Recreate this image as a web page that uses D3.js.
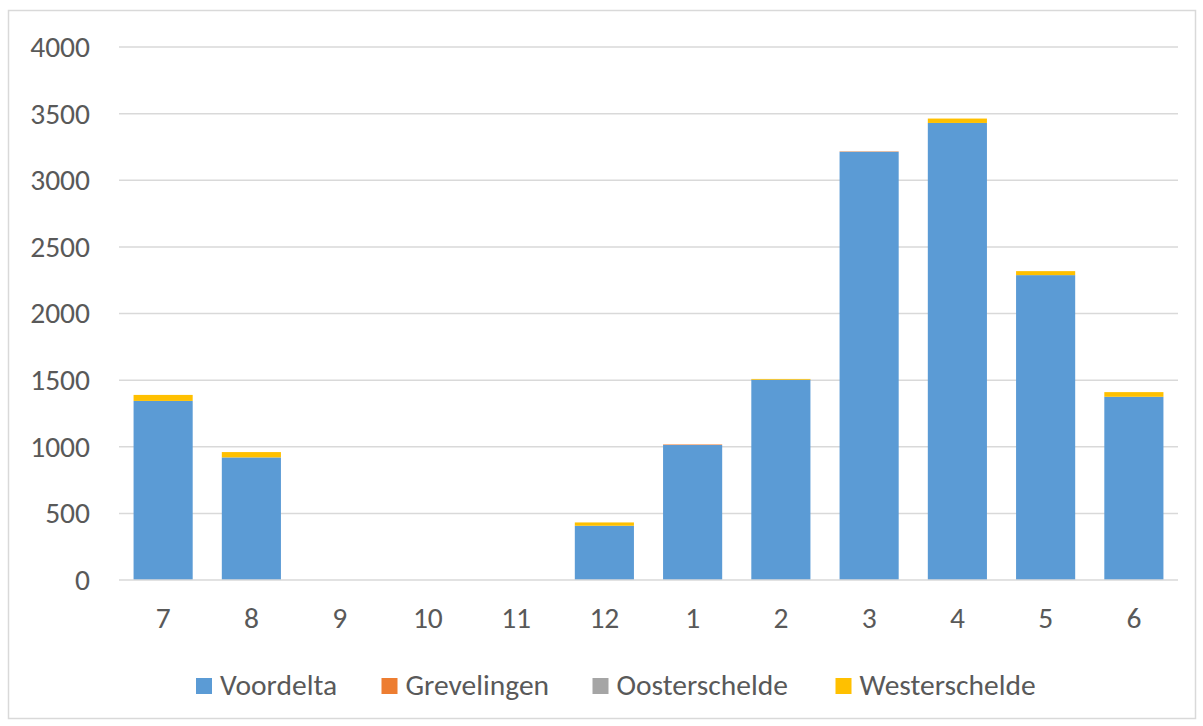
<!DOCTYPE html>
<html>
<head>
<meta charset="utf-8">
<script src="https://cdn.jsdelivr.net/npm/d3@7"></script>
<style>
  html, body { margin: 0; padding: 0; background: #fff; }
  svg { display: block; font-family: Calibri, Carlito, "Open Sans", "Noto Sans", sans-serif; }
</style>
</head>
<body>
<svg id="chart" width="1203" height="726"></svg>
<script>
// Months, July through June
const months = ["7", "8", "9", "10", "11", "12", "1", "2", "3", "4", "5", "6"];
const seriesNames = ["Voordelta", "Grevelingen", "Oosterschelde", "Westerschelde"];
const seriesColors = ["#5B9BD5", "#ED7D31", "#A5A5A5", "#FFC000"];

const voordelta     = [1344, 920, 0, 0, 0, 407, 1013, 1503, 3212, 3430, 2288, 1375];
const grevelingen   = [0, 0, 0, 0, 0, 0, 4, 0, 3, 0, 0, 0];
const oosterschelde = [0, 0, 0, 0, 0, 0, 0, 0, 2, 0, 0, 0];
const westerschelde = [45, 40, 0, 0, 0, 25, 0, 6, 0, 33, 30, 35];

const yTicks = [0, 500, 1000, 1500, 2000, 2500, 3000, 3500, 4000];

const rows = months.map((m, i) => ({
  month: m,
  Voordelta: voordelta[i],
  Grevelingen: grevelingen[i],
  Oosterschelde: oosterschelde[i],
  Westerschelde: westerschelde[i]
}));

const FONT = "Calibri, Carlito, 'Open Sans', 'Noto Sans', sans-serif";
const TEXT_COLOR = "#595959";
const FONT_SIZE = 29.5;

const svg = d3.select("#chart");
const plot = { left: 119, right: 1178, top: 47, bottom: 580 };

// outer chart frame
svg.append("rect")
  .attr("x", 8.5).attr("y", 10.5)
  .attr("width", 1187).attr("height", 708)
  .attr("fill", "#fff").attr("stroke", "#d9d9d9").attr("stroke-width", 1.5);

const x = d3.scaleBand().domain(months).range([plot.left, plot.right]).paddingInner(0.33).paddingOuter(0.165);
const y = d3.scaleLinear().domain([0, 4000]).range([plot.bottom, plot.top]);

// horizontal gridlines
svg.append("g")
  .selectAll("line")
  .data(yTicks.filter(t => t > 0))
  .join("line")
  .attr("x1", plot.left).attr("x2", plot.right)
  .attr("y1", d => y(d)).attr("y2", d => y(d))
  .attr("stroke", "#d9d9d9").attr("stroke-width", 1.5);

// stacked bars
const stack = d3.stack().keys(seriesNames);
const layers = stack(rows);
svg.append("g")
  .selectAll("g")
  .data(layers)
  .join("g")
  .attr("fill", (d, i) => seriesColors[i])
  .selectAll("rect")
  .data(d => d.map(v => ({ v, month: v.data.month })))
  .join("rect")
  .attr("x", d => x(d.month))
  .attr("width", x.bandwidth())
  .attr("y", d => y(d.v[1]))
  .attr("height", d => Math.max(0, y(d.v[0]) - y(d.v[1])));

// baseline axis line
svg.append("line")
  .attr("x1", plot.left).attr("x2", plot.right)
  .attr("y1", y(0)).attr("y2", y(0))
  .attr("stroke", "#d9d9d9").attr("stroke-width", 1.5);

// y axis labels
const yAxis = d3.axisLeft(y).tickValues(yTicks).tickSize(0).tickPadding(0).tickFormat(d3.format("d"));
const gy = svg.append("g").attr("transform", "translate(90,0)").call(yAxis);
gy.select(".domain").remove();
gy.selectAll("text")
  .attr("fill", TEXT_COLOR).attr("font-size", FONT_SIZE).attr("dy", "0.32em")
  .style("font-family", FONT);

// x axis labels
const xAxis = d3.axisBottom(x).tickSize(0).tickPadding(0);
const gx = svg.append("g").attr("transform", `translate(0,${y(0) + 48})`).call(xAxis);
gx.select(".domain").remove();
gx.selectAll("text")
  .attr("fill", TEXT_COLOR).attr("font-size", FONT_SIZE).attr("dy", "0")
  .style("font-family", FONT);

// legend
const legendX = [196, 381.5, 592.5, 835.5];
const legend = svg.append("g");
const items = legend.selectAll("g")
  .data(seriesNames)
  .join("g")
  .attr("transform", (d, i) => `translate(${legendX[i]},0)`);
items.append("rect")
  .attr("x", 0).attr("y", 678).attr("width", 16).attr("height", 16)
  .attr("fill", (d, i) => seriesColors[i]);
items.append("text")
  .attr("x", 24).attr("y", 695)
  .attr("fill", TEXT_COLOR).attr("font-size", FONT_SIZE)
  .style("font-family", FONT)
  .text(d => d);
</script>
</body>
</html>
